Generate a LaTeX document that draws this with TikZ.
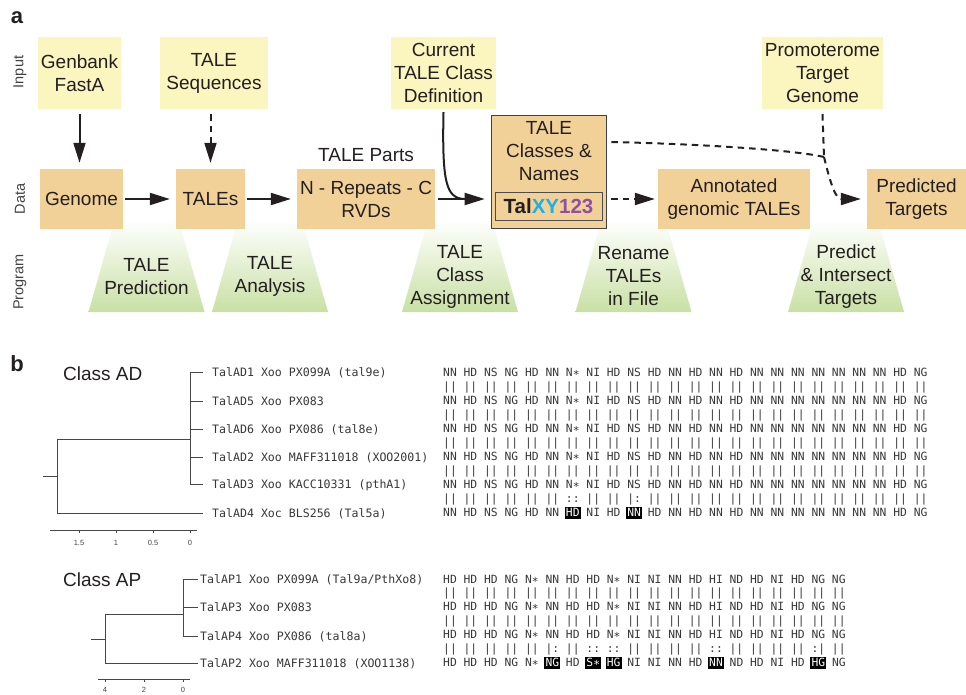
\documentclass[tikz,border=0pt]{standalone}
\usepackage{fontspec}
\setmainfont{Liberation Sans}
\setmonofont{DejaVu Sans Mono}
\usetikzlibrary{arrows.meta}
\definecolor{inyellow}{RGB}{251,245,192}
\definecolor{dataorange}{RGB}{242,209,152}
\definecolor{progreen}{RGB}{200,224,164}
\definecolor{txt}{RGB}{35,31,32}
\definecolor{alncol}{RGB}{55,55,55}
\definecolor{talcyan}{RGB}{27,176,230}
\definecolor{talpurple}{RGB}{142,80,165}
\definecolor{treecol}{RGB}{70,70,70}
\newcommand\rvdhl[1]{{\setlength\fboxsep{0pt}\hspace{-1.2pt}\colorbox{black}{\rule[-3pt]{0pt}{12.4pt}\hspace{1.2pt}\textcolor{white}{#1}\hspace{1.2pt}}\hspace{-1.2pt}}}
\newcommand\progtrap[1]{\shade[top color=white, bottom color=progreen] (#1-32,220) -- (#1+32,220) -- (#1+58,312) -- (#1-58,312) -- cycle;}
\begin{document}
\begin{tikzpicture}[x=1pt,y=-1pt,
  boxtext/.style={font=\fontsize{19}{23}\selectfont, text=txt, align=center, inner sep=0pt},
  inbox/.style={boxtext, fill=inyellow, minimum height=72pt},
  databox/.style={boxtext, fill=dataorange, minimum height=60pt},
  rowlab/.style={font=\fontsize{14.5}{17}\selectfont, text=txt!85, rotate=90, inner sep=0pt},
  panlab/.style={font=\fontsize{22}{24}\selectfont\bfseries, text=txt, inner sep=0pt},
  arr/.style={line width=2pt, draw=txt, -{Triangle[length=20pt,width=12pt]}},
  darr/.style={arr, dash pattern=on 6.5pt off 5pt},
  dline/.style={line width=2pt, draw=txt, dash pattern=on 6.5pt off 5pt},
  alnrow/.style={font=\ttfamily\fontsize{11.33}{14}\selectfont, text=alncol, anchor=base west, inner sep=0pt},
  leaflab/.style={font=\ttfamily\fontsize{11.58}{14}\selectfont, text=alncol, anchor=base west, inner sep=0pt},
  tree/.style={draw=treecol, line width=0.9pt},
  ticklab/.style={font=\fontsize{7.5}{9}\selectfont, text=treecol, inner sep=0pt},
  classlab/.style={font=\fontsize{19}{23}\selectfont, text=txt, anchor=west, inner sep=0pt}]
\useasboundingbox (0,0) rectangle (966,695);

% ---------------- panel a ----------------
\node[panlab] (la) at (17,18) {a};
\node[rowlab] (rin) at (20,72) {Input};
\node[rowlab] (rdata) at (20,199) {Data};
\node[rowlab] (rprog) at (20,282) {Program};

% program trapezoids
\progtrap{146.5}
\progtrap{270}
\progtrap{460}
\progtrap{633.5}
\progtrap{846}
\node[boxtext] (p1) at (146.5,276.5) {TALE\\Prediction};
\node[boxtext] (p2) at (270,276.5) {TALE\\Analysis};
\node[boxtext] (p3) at (460,276.5) {TALE\\Class\\Assignment};
\node[boxtext] (p4) at (633.5,276.5) {Rename\\TALEs\\in File};
\node[boxtext] (p5) at (846,276.5) {Predict\\\& Intersect\\Targets};

% input boxes
\node[inbox, minimum width=83pt] (gb) at (79.5,73) {Genbank\\FastA};
\node[inbox, minimum width=108pt] (ts) at (214,73) {TALE\\Sequences};
\node[inbox, minimum width=105pt] (ctcd) at (443.5,73) {Current\\TALE Class\\Definition};
\node[inbox, minimum width=121pt] (ptg) at (822.5,73) {Promoterome\\Target\\Genome};

% data boxes
\node[databox, minimum width=83pt] (gen) at (81.5,199) {Genome};
\node[databox, minimum width=69pt] (tales) at (210.5,199) {TALEs};
\node[databox, minimum width=138pt] (parts) at (366,199) {N - Repeats - C\\RVDs};
\node[boxtext] (partslab) at (366,155) {TALE Parts};
\node[fill=dataorange, draw=txt!85, line width=1.6pt, minimum width=115pt, minimum height=113pt, inner sep=0pt] (tcn) at (549,172) {};
\node[boxtext] (tcnt) at (549,151) {TALE\\Classes \&\\Names};
\node[draw=txt!80, line width=1pt, minimum width=107pt, minimum height=27pt, inner sep=0pt, font=\fontsize{20.5}{24}\selectfont\bfseries, text=txt] (talxy) at (548.5,206.5) {Tal\textcolor{talcyan}{XY}\textcolor{talpurple}{123}};
\node[databox, minimum width=152pt] (agt) at (734,199) {Annotated\\genomic TALEs};
\node[databox, minimum width=99pt] (pt) at (916.5,199) {Predicted\\Targets};

% connectors
\draw[arr, shorten <=5pt, shorten >=6pt] (gb.south) -- (gb.south |- gen.north);
\draw[darr, shorten <=5pt, shorten >=6pt] (ts.south -| tales.north) -- (tales.north);
\draw[arr, shorten <=2pt, shorten >=6pt] (gen.east) -- (tales.west);
\draw[arr, shorten <=2pt, shorten >=6pt] (tales.east) -- (parts.west);
\draw[arr, shorten <=3pt, shorten >=6pt] (parts.east) -- (parts.east -| tcn.west);
\coordinate (cmerge) at (464,199);
\draw[line width=2pt, draw=txt] ([yshift=-3pt]ctcd.south) .. controls (442,182) and (446,198) .. (cmerge);
\draw[darr, shorten <=4pt, shorten >=3pt] (tcn.east |- agt.west) -- (agt.west);
\coordinate (jn) at (824,157);
\draw[dline] ([xshift=4pt,yshift=30pt]tcn.east) .. controls (700,144) and (795,150) .. (jn);
\draw[dline] ([yshift=-5pt]ptg.south) -- (jn);
\draw[darr] (jn) .. controls (831,186) and (836,199) .. ([xshift=-6pt]pt.west);

% ---------------- panel b ----------------
\node[panlab] (lb) at (17,364) {b};
\node[classlab] (cad) at (63,374) {Class AD};
\node[classlab] (cap) at (63,580) {Class AP};

% tree AD
\draw[tree] (43,476) -- (57,476);
\draw[tree] (57,439) -- (57,513);
\draw[tree] (57,439) -- (190,439);
\draw[tree] (57,513) -- (203,513);
\draw[tree] (190,372) -- (190,484);
\foreach \yy in {372,401,429,457,484} \draw[tree] (190,\yy) -- (203,\yy);
\node[leaflab] (ad1) at (212,376) {TalAD1 Xoo PX099A (tal9e)};
\node[leaflab] (ad5) at (212,405) {TalAD5 Xoo PX083};
\node[leaflab] (ad6) at (212,433) {TalAD6 Xoo PX086 (tal8e)};
\node[leaflab] (ad2) at (212,461) {TalAD2 Xoo MAFF311018 (XOO2001)};
\node[leaflab] (ad3) at (212,488) {TalAD3 Xoo KACC10331 (pthA1)};
\node[leaflab] (ad4) at (212,517) {TalAD4 Xoc BLS256 (Tal5a)};
\draw[tree, line width=0.7pt] (50,530) -- (197,530);
\foreach \xx/\tl in {79/1.5,116/1,153/0.5,190/0} {
  \draw[tree, line width=0.7pt] (\xx,530) -- (\xx,533);
  \node[ticklab] at (\xx,543) {\tl};
}

% alignment AD
\node[alnrow] (a1) at (443,376) {NN HD NS NG HD NN N∗ NI HD NS HD NN HD NN HD NN NN NN NN NN NN NN HD NG};
\node[alnrow] (m1) at (443,390) {|| || || || || || || || || || || || || || || || || || || || || || || ||};
\node[alnrow] (a2) at (443,404) {NN HD NS NG HD NN N∗ NI HD NS HD NN HD NN HD NN NN NN NN NN NN NN HD NG};
\node[alnrow] (m2) at (443,418) {|| || || || || || || || || || || || || || || || || || || || || || || ||};
\node[alnrow] (a3) at (443,432) {NN HD NS NG HD NN N∗ NI HD NS HD NN HD NN HD NN NN NN NN NN NN NN HD NG};
\node[alnrow] (m3) at (443,446) {|| || || || || || || || || || || || || || || || || || || || || || || ||};
\node[alnrow] (a4) at (443,460) {NN HD NS NG HD NN N∗ NI HD NS HD NN HD NN HD NN NN NN NN NN NN NN HD NG};
\node[alnrow] (m4) at (443,474) {|| || || || || || || || || || || || || || || || || || || || || || || ||};
\node[alnrow] (a5) at (443,488) {NN HD NS NG HD NN N∗ NI HD NS HD NN HD NN HD NN NN NN NN NN NN NN HD NG};
\node[alnrow] (m5) at (443,502) {|| || || || || || :: || || |: || || || || || || || || || || || || || ||};
\node[alnrow] (a6) at (443,516) {NN HD NS NG HD NN \rvdhl{HD} NI HD \rvdhl{NN} HD NN HD NN HD NN NN NN NN NN NN NN HD NG};

% tree AP
\draw[tree] (91,639) -- (105,639);
\draw[tree] (105,614) -- (105,663);
\draw[tree] (105,614) -- (183,614);
\draw[tree] (105,663) -- (198,663);
\draw[tree] (183,579) -- (183,636);
\foreach \yy in {579,607,636} \draw[tree] (183,\yy) -- (198,\yy);
\node[leaflab] (ap1) at (200,583) {TalAP1 Xoo PX099A (Tal9a/PthXo8)};
\node[leaflab] (ap3) at (200,611) {TalAP3 Xoo PX083};
\node[leaflab] (ap4) at (200,640) {TalAP4 Xoo PX086 (tal8a)};
\node[leaflab] (ap2) at (200,667) {TalAP2 Xoo MAFF311018 (XOO1138)};
\draw[tree, line width=0.7pt] (98,679) -- (190,679);
\foreach \xx/\tl in {105/4,144/2,183/0} {
  \draw[tree, line width=0.7pt] (\xx,679) -- (\xx,682);
  \node[ticklab] at (\xx,690) {\tl};
}

% alignment AP
\node[alnrow] (b1) at (443,583) {HD HD HD NG N∗ NN HD HD N∗ NI NI NN HD HI ND HD NI HD NG NG};
\node[alnrow] (n1) at (443,596.8) {|| || || || || || || || || || || || || || || || || || || ||};
\node[alnrow] (b2) at (443,610.7) {HD HD HD NG N∗ NN HD HD N∗ NI NI NN HD HI ND HD NI HD NG NG};
\node[alnrow] (n2) at (443,624.5) {|| || || || || || || || || || || || || || || || || || || ||};
\node[alnrow] (b3) at (443,638.3) {HD HD HD NG N∗ NN HD HD N∗ NI NI NN HD HI ND HD NI HD NG NG};
\node[alnrow] (n3) at (443,652.1) {|| || || || || |: || :: :: || || || || :: || || || || :| ||};
\node[alnrow] (b4) at (443,666) {HD HD HD NG N∗ \rvdhl{NG} HD \rvdhl{S∗} \rvdhl{HG} NI NI NN HD \rvdhl{NN} ND HD NI HD \rvdhl{HG} NG};
\end{tikzpicture}
\end{document}
